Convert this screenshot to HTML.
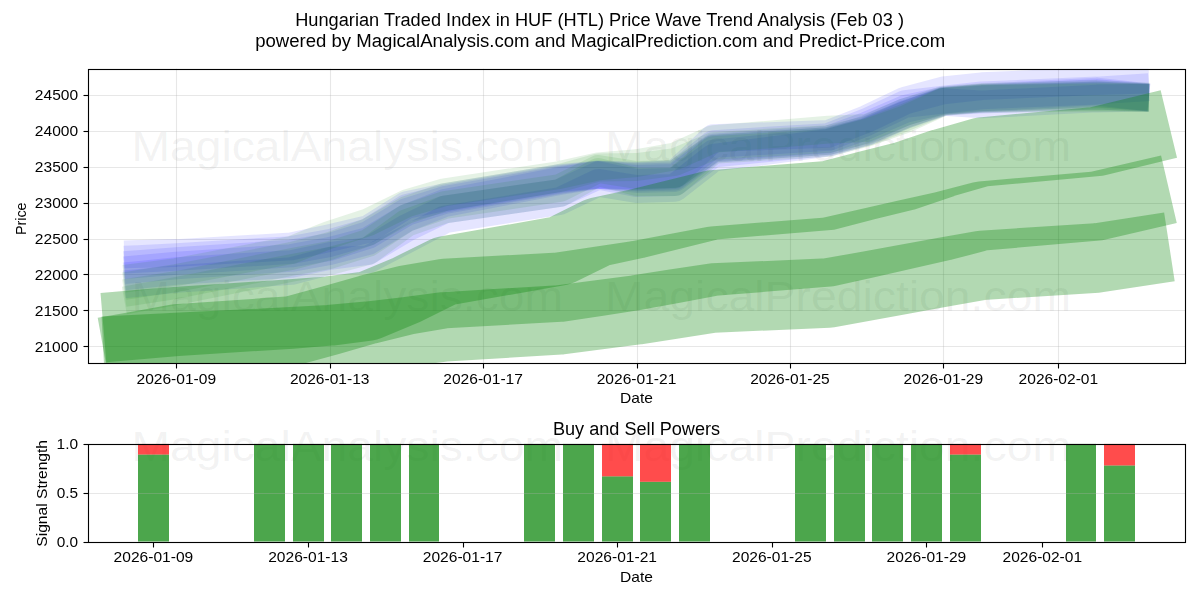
<!DOCTYPE html>
<html><head><meta charset="utf-8"><title>Price Wave Trend Analysis</title>
<style>html,body{margin:0;padding:0;background:#fff}body{width:1200px;height:600px;position:relative;overflow:hidden;font-family:"Liberation Sans",sans-serif}</style></head>
<body>
<svg width="1200" height="600" viewBox="0 0 1200 600" style="position:absolute;left:0;top:0">
<defs><clipPath id="c1"><rect x="88.15" y="68.80" width="1096.85" height="294.23"/></clipPath>
<clipPath id="c2"><rect x="88.15" y="443.64" width="1096.85" height="98.08"/></clipPath></defs>
<rect width="1200" height="600" fill="#fff"/>
<g font-family="Liberation Sans, sans-serif" fill="#808080" fill-opacity="0.1">
<text x="131.50" y="161.00" font-size="43.00" textLength="431.50" lengthAdjust="spacingAndGlyphs" fill="#808080" >MagicalAnalysis.com</text>
<text x="605.00" y="161.00" font-size="43.00" textLength="466.00" lengthAdjust="spacingAndGlyphs" fill="#808080" >MagicalPrediction.com</text>
<text x="131.50" y="311.00" font-size="43.00" textLength="431.50" lengthAdjust="spacingAndGlyphs" fill="#808080" >MagicalAnalysis.com</text>
<text x="605.00" y="311.00" font-size="43.00" textLength="466.00" lengthAdjust="spacingAndGlyphs" fill="#808080" >MagicalPrediction.com</text>
<text x="131.50" y="461.00" font-size="43.00" textLength="431.50" lengthAdjust="spacingAndGlyphs" fill="#808080" >MagicalAnalysis.com</text>
<text x="605.00" y="461.00" font-size="43.00" textLength="466.00" lengthAdjust="spacingAndGlyphs" fill="#808080" >MagicalPrediction.com</text>
</g>
<g stroke="#b0b0b0" stroke-opacity="0.3" stroke-width="1.11">
<line x1="176.50" y1="68.80" x2="176.50" y2="363.03"/>
<line x1="330.50" y1="68.80" x2="330.50" y2="363.03"/>
<line x1="483.50" y1="68.80" x2="483.50" y2="363.03"/>
<line x1="637.50" y1="68.80" x2="637.50" y2="363.03"/>
<line x1="790.50" y1="68.80" x2="790.50" y2="363.03"/>
<line x1="943.50" y1="68.80" x2="943.50" y2="363.03"/>
<line x1="1058.50" y1="68.80" x2="1058.50" y2="363.03"/>
<line x1="88.15" y1="346.50" x2="1185.00" y2="346.50"/>
<line x1="88.15" y1="310.50" x2="1185.00" y2="310.50"/>
<line x1="88.15" y1="274.50" x2="1185.00" y2="274.50"/>
<line x1="88.15" y1="239.50" x2="1185.00" y2="239.50"/>
<line x1="88.15" y1="203.50" x2="1185.00" y2="203.50"/>
<line x1="88.15" y1="167.50" x2="1185.00" y2="167.50"/>
<line x1="88.15" y1="131.50" x2="1185.00" y2="131.50"/>
<line x1="88.15" y1="95.50" x2="1185.00" y2="95.50"/>
</g>
<g clip-path="url(#c1)" fill="none" stroke-linejoin="round" stroke-linecap="square">
<path d="M138.0,254.0 L176.4,253.0 L291.4,246.4 L329.8,238.0 L368.1,229.0 L406.5,205.0 L444.8,197.2 L559.9,178.0 L598.2,174.4 L636.6,175.6 L674.9,173.9 L713.3,138.1 L828.3,133.9 L866.7,118.9 L905.0,100.6 L943.4,90.4 L981.7,86.2 L1096.8,81.0 L1135.1,80.0" stroke="#0000ff" stroke-opacity="0.1" stroke-width="27.78"/>
<path d="M138.0,259.0 L176.4,257.0 L291.4,250.0 L329.8,243.0 L368.1,232.0 L406.5,208.0 L444.8,198.5 L559.9,179.0 L598.2,174.6 L636.6,176.5 L674.9,175.0 L713.3,144.0 L828.3,137.0 L866.7,122.0 L905.0,104.0 L943.4,99.6 L981.7,95.4 L1096.8,90.5 L1135.1,88.0" stroke="#0000ff" stroke-opacity="0.1" stroke-width="27.78"/>
<path d="M138.0,264.0 L176.4,261.0 L291.4,253.5 L329.8,247.0 L368.1,235.0 L406.5,212.0 L444.8,200.0 L559.9,180.0 L598.2,174.8 L636.6,177.5 L674.9,176.5 L713.3,147.5 L828.3,139.5 L866.7,125.6 L905.0,108.9 L943.4,100.5 L981.7,97.5 L1096.8,91.5 L1135.1,95.8" stroke="#0000ff" stroke-opacity="0.1" stroke-width="27.78"/>
<path d="M138.0,269.0 L176.4,265.5 L291.4,258.0 L329.8,251.0 L368.1,241.0 L406.5,218.0 L444.8,203.0 L559.9,181.0 L598.2,175.0 L636.6,179.0 L674.9,178.0 L713.3,149.0 L828.3,141.0 L866.7,129.0 L905.0,112.0 L943.4,101.2 L981.7,98.5 L1096.8,93.0 L1135.1,96.5" stroke="#0000ff" stroke-opacity="0.1" stroke-width="27.78"/>
<path d="M138.0,275.0 L176.4,271.0 L291.4,264.0 L329.8,256.0 L368.1,251.0 L406.5,228.0 L444.8,209.4 L559.9,193.0 L598.2,175.5 L636.6,183.0 L674.9,182.0 L713.3,153.6 L828.3,142.0 L866.7,131.0 L905.0,114.0 L943.4,101.8 L981.7,99.5 L1096.8,95.5 L1135.1,97.2" stroke="#0000ff" stroke-opacity="0.1" stroke-width="27.78"/>
<path d="M138.0,283.0 L176.4,279.0 L291.4,271.0 L329.8,261.0 L368.1,259.4 L406.5,239.6 L444.8,219.4 L559.9,201.0 L598.2,182.8 L636.6,189.0 L674.9,187.8 L713.3,157.8 L828.3,142.8 L866.7,132.0 L905.0,115.0 L943.4,102.0 L981.7,104.3 L1096.8,98.5 L1135.1,97.9" stroke="#0000ff" stroke-opacity="0.1" stroke-width="27.78"/>
<path d="M138.0,277.0 L176.4,272.0 L291.4,250.0 L329.8,234.7 L368.1,222.2 L406.5,203.4 L444.8,192.2 L559.9,174.9 L598.2,166.4 L636.6,163.1 L674.9,156.4 L713.3,139.0 L828.3,129.7 L866.7,128.0 L905.0,112.0 L943.4,100.0 L981.7,97.0 L1096.8,94.0 L1135.1,96.0" stroke="#008000" stroke-opacity="0.1" stroke-width="27.78"/>
<path d="M138.0,284.0 L176.4,278.0 L291.4,256.0 L329.8,246.0 L368.1,232.0 L406.5,210.0 L444.8,197.0 L559.9,178.0 L598.2,167.5 L636.6,167.0 L674.9,162.0 L713.3,146.0 L828.3,139.0 L866.7,130.0 L905.0,115.0 L943.4,101.0 L981.7,97.8 L1096.8,95.5 L1135.1,96.8" stroke="#008000" stroke-opacity="0.1" stroke-width="27.78"/>
<path d="M138.0,291.0 L176.4,285.0 L291.4,262.0 L329.8,255.0 L368.1,243.0 L406.5,218.0 L444.8,205.0 L559.9,188.0 L598.2,169.0 L636.6,175.0 L674.9,174.0 L713.3,148.5 L828.3,141.0 L866.7,132.0 L905.0,117.5 L943.4,101.5 L981.7,98.4 L1096.8,96.5 L1135.1,97.4" stroke="#008000" stroke-opacity="0.1" stroke-width="27.78"/>
<path d="M138.0,298.0 L176.4,291.0 L291.4,268.0 L329.8,261.0 L368.1,251.0 L406.5,223.0 L444.8,209.4 L559.9,193.0 L598.2,172.0 L636.6,182.0 L674.9,182.0 L713.3,150.0 L828.3,142.8 L866.7,132.8 L905.0,119.4 L943.4,101.8 L981.7,99.0 L1096.8,97.5 L1135.1,97.9" stroke="#008000" stroke-opacity="0.1" stroke-width="27.78"/>
<path d="M138.0,324.7 L176.4,321.5 L291.4,314.0 L329.8,311.0 L368.1,306.0 L406.5,290.0 L444.8,271.0 L559.9,250.8 L598.2,232.0 L636.6,223.8 L674.9,214.3 L713.3,204.8 L828.3,195.5 L866.7,185.5 L905.0,176.0 L943.4,163.0 L981.7,152.0 L1096.8,141.5 L1135.1,132.2" stroke="#008000" stroke-opacity="0.3" stroke-width="69.44"/>
<path d="M138.0,345.9 L176.4,339.0 L291.4,331.0 L329.8,320.5 L368.1,309.5 L406.5,300.0 L444.8,293.5 L559.9,287.1 L598.2,281.3 L636.6,275.5 L674.9,268.3 L713.3,261.1 L828.3,252.0 L866.7,243.3 L905.0,234.7 L943.4,226.0 L981.7,216.0 L1096.8,206.0 L1135.1,197.1" stroke="#008000" stroke-opacity="0.3" stroke-width="69.44"/>
<path d="M138.0,349.4 L176.4,347.5 L291.4,341.8 L329.8,339.7 L368.1,336.2 L406.5,331.8 L444.8,326.8 L559.9,319.9 L598.2,314.9 L636.6,309.9 L674.9,303.9 L713.3,298.0 L828.3,293.0 L866.7,286.1 L905.0,279.1 L943.4,272.2 L981.7,265.3 L1096.8,258.0 L1135.1,252.1" stroke="#008000" stroke-opacity="0.3" stroke-width="69.44"/>
</g>
<g clip-path="url(#c2)">
<rect x="138.00" y="454.54" width="31.00" height="87.18" fill="#008000" fill-opacity="0.7"/>
<rect x="138.00" y="443.64" width="31.00" height="10.90" fill="#ff0000" fill-opacity="0.7"/>
<rect x="254.00" y="443.64" width="31.00" height="98.08" fill="#008000" fill-opacity="0.7"/>
<rect x="293.00" y="443.64" width="31.00" height="98.08" fill="#008000" fill-opacity="0.7"/>
<rect x="331.00" y="443.64" width="31.00" height="98.08" fill="#008000" fill-opacity="0.7"/>
<rect x="370.00" y="443.64" width="31.00" height="98.08" fill="#008000" fill-opacity="0.7"/>
<rect x="409.00" y="443.64" width="30.00" height="98.08" fill="#008000" fill-opacity="0.7"/>
<rect x="524.00" y="443.64" width="31.00" height="98.08" fill="#008000" fill-opacity="0.7"/>
<rect x="563.00" y="443.64" width="31.00" height="98.08" fill="#008000" fill-opacity="0.7"/>
<rect x="602.00" y="476.33" width="31.00" height="65.39" fill="#008000" fill-opacity="0.7"/>
<rect x="602.00" y="443.64" width="31.00" height="32.69" fill="#ff0000" fill-opacity="0.7"/>
<rect x="640.00" y="481.78" width="31.00" height="59.94" fill="#008000" fill-opacity="0.7"/>
<rect x="640.00" y="443.64" width="31.00" height="38.14" fill="#ff0000" fill-opacity="0.7"/>
<rect x="679.00" y="443.64" width="31.00" height="98.08" fill="#008000" fill-opacity="0.7"/>
<rect x="795.00" y="443.64" width="31.00" height="98.08" fill="#008000" fill-opacity="0.7"/>
<rect x="834.00" y="443.64" width="31.00" height="98.08" fill="#008000" fill-opacity="0.7"/>
<rect x="872.00" y="443.64" width="31.00" height="98.08" fill="#008000" fill-opacity="0.7"/>
<rect x="911.00" y="443.64" width="31.00" height="98.08" fill="#008000" fill-opacity="0.7"/>
<rect x="950.00" y="454.54" width="31.00" height="87.18" fill="#008000" fill-opacity="0.7"/>
<rect x="950.00" y="443.64" width="31.00" height="10.90" fill="#ff0000" fill-opacity="0.7"/>
<rect x="1066.00" y="443.64" width="30.00" height="98.08" fill="#008000" fill-opacity="0.7"/>
<rect x="1104.00" y="465.44" width="31.00" height="76.28" fill="#008000" fill-opacity="0.7"/>
<rect x="1104.00" y="443.64" width="31.00" height="21.80" fill="#ff0000" fill-opacity="0.7"/>
</g>
<g stroke="#b0b0b0" stroke-opacity="0.3" stroke-width="1.11">
<line x1="88.15" y1="493.50" x2="1185.00" y2="493.50"/>
</g>
<g stroke="#000" stroke-width="1.11" fill="none" stroke-linecap="square">
<rect x="88.50" y="69.50" width="1097.00" height="294.00"/>
<rect x="88.50" y="444.50" width="1097.00" height="98.00"/>
</g><g stroke="#000" stroke-width="1.11">
<line x1="176.50" y1="363.50" x2="176.50" y2="368.50"/>
<line x1="153.50" y1="542.50" x2="153.50" y2="547.50"/>
<line x1="330.50" y1="363.50" x2="330.50" y2="368.50"/>
<line x1="308.50" y1="542.50" x2="308.50" y2="547.50"/>
<line x1="483.50" y1="363.50" x2="483.50" y2="368.50"/>
<line x1="463.50" y1="542.50" x2="463.50" y2="547.50"/>
<line x1="637.50" y1="363.50" x2="637.50" y2="368.50"/>
<line x1="617.50" y1="542.50" x2="617.50" y2="547.50"/>
<line x1="790.50" y1="363.50" x2="790.50" y2="368.50"/>
<line x1="772.50" y1="542.50" x2="772.50" y2="547.50"/>
<line x1="943.50" y1="363.50" x2="943.50" y2="368.50"/>
<line x1="926.50" y1="542.50" x2="926.50" y2="547.50"/>
<line x1="1058.50" y1="363.50" x2="1058.50" y2="368.50"/>
<line x1="1042.50" y1="542.50" x2="1042.50" y2="547.50"/>
<line x1="83.50" y1="346.50" x2="88.50" y2="346.50"/>
<line x1="83.50" y1="310.50" x2="88.50" y2="310.50"/>
<line x1="83.50" y1="274.50" x2="88.50" y2="274.50"/>
<line x1="83.50" y1="239.50" x2="88.50" y2="239.50"/>
<line x1="83.50" y1="203.50" x2="88.50" y2="203.50"/>
<line x1="83.50" y1="167.50" x2="88.50" y2="167.50"/>
<line x1="83.50" y1="131.50" x2="88.50" y2="131.50"/>
<line x1="83.50" y1="95.50" x2="88.50" y2="95.50"/>
<line x1="83.50" y1="542.50" x2="88.50" y2="542.50"/>
<line x1="83.50" y1="493.50" x2="88.50" y2="493.50"/>
<line x1="83.50" y1="444.50" x2="88.50" y2="444.50"/>
</g>
<g font-family="Liberation Sans, sans-serif" opacity="0.999">
<text x="136.50" y="383.54" font-size="14.30" textLength="79.62" lengthAdjust="spacingAndGlyphs" fill="#000" >2026-01-09</text>
<text x="289.90" y="383.54" font-size="14.30" textLength="79.62" lengthAdjust="spacingAndGlyphs" fill="#000" >2026-01-13</text>
<text x="443.31" y="383.54" font-size="14.30" textLength="79.63" lengthAdjust="spacingAndGlyphs" fill="#000" >2026-01-17</text>
<text x="596.71" y="383.54" font-size="14.30" textLength="79.62" lengthAdjust="spacingAndGlyphs" fill="#000" >2026-01-21</text>
<text x="750.18" y="383.54" font-size="14.30" textLength="79.50" lengthAdjust="spacingAndGlyphs" fill="#000" >2026-01-25</text>
<text x="903.52" y="383.54" font-size="14.30" textLength="79.62" lengthAdjust="spacingAndGlyphs" fill="#000" >2026-01-29</text>
<text x="1018.64" y="383.54" font-size="14.30" textLength="79.50" lengthAdjust="spacingAndGlyphs" fill="#000" >2026-02-01</text>
<text x="34.76" y="351.92" font-size="14.30" textLength="43.38" lengthAdjust="spacingAndGlyphs" fill="#000" >21000</text>
<text x="34.76" y="315.95" font-size="14.30" textLength="43.38" lengthAdjust="spacingAndGlyphs" fill="#000" >21500</text>
<text x="34.88" y="279.99" font-size="14.30" textLength="43.25" lengthAdjust="spacingAndGlyphs" fill="#000" >22000</text>
<text x="34.88" y="244.03" font-size="14.30" textLength="43.25" lengthAdjust="spacingAndGlyphs" fill="#000" >22500</text>
<text x="34.88" y="208.07" font-size="14.30" textLength="43.25" lengthAdjust="spacingAndGlyphs" fill="#000" >23000</text>
<text x="34.88" y="172.11" font-size="14.30" textLength="43.25" lengthAdjust="spacingAndGlyphs" fill="#000" >23500</text>
<text x="34.88" y="136.15" font-size="14.30" textLength="43.25" lengthAdjust="spacingAndGlyphs" fill="#000" >24000</text>
<text x="34.88" y="100.19" font-size="14.30" textLength="43.25" lengthAdjust="spacingAndGlyphs" fill="#000" >24500</text>
<text x="620.09" y="403.09" font-size="14.30" textLength="32.88" lengthAdjust="spacingAndGlyphs" fill="#000" >Date</text>
<g transform="translate(25.80,235.10) rotate(-90)"><text x="0.00" y="0.00" font-size="14.30" textLength="32.70" lengthAdjust="spacingAndGlyphs" fill="#000" >Price</text></g>
<text x="113.61" y="562.22" font-size="14.30" textLength="79.62" lengthAdjust="spacingAndGlyphs" fill="#000" >2026-01-09</text>
<text x="268.20" y="562.22" font-size="14.30" textLength="79.62" lengthAdjust="spacingAndGlyphs" fill="#000" >2026-01-13</text>
<text x="422.80" y="562.22" font-size="14.30" textLength="79.62" lengthAdjust="spacingAndGlyphs" fill="#000" >2026-01-17</text>
<text x="577.39" y="562.22" font-size="14.30" textLength="79.62" lengthAdjust="spacingAndGlyphs" fill="#000" >2026-01-21</text>
<text x="732.05" y="562.22" font-size="14.30" textLength="79.50" lengthAdjust="spacingAndGlyphs" fill="#000" >2026-01-25</text>
<text x="886.58" y="562.22" font-size="14.30" textLength="79.62" lengthAdjust="spacingAndGlyphs" fill="#000" >2026-01-29</text>
<text x="1002.59" y="562.22" font-size="14.30" textLength="79.50" lengthAdjust="spacingAndGlyphs" fill="#000" >2026-02-01</text>
<text x="56.76" y="547.00" font-size="14.30" textLength="21.38" lengthAdjust="spacingAndGlyphs" fill="#000" >0.0</text>
<text x="56.76" y="497.96" font-size="14.30" textLength="21.38" lengthAdjust="spacingAndGlyphs" fill="#000" >0.5</text>
<text x="56.63" y="448.92" font-size="14.30" textLength="21.50" lengthAdjust="spacingAndGlyphs" fill="#000" >1.0</text>
<text x="620.09" y="581.78" font-size="14.30" textLength="32.88" lengthAdjust="spacingAndGlyphs" fill="#000" >Date</text>
<g transform="translate(46.70,546.70) rotate(-90)"><text x="0.00" y="0.00" font-size="14.30" textLength="106.70" lengthAdjust="spacingAndGlyphs" fill="#000" >Signal Strength</text></g>
<text x="552.90" y="435.17" font-size="17.60" textLength="167.25" lengthAdjust="spacingAndGlyphs" fill="#000" >Buy and Sell Powers</text>
<text x="295.20" y="26.00" font-size="17.60" textLength="608.80" lengthAdjust="spacingAndGlyphs" fill="#000" >Hungarian Traded Index in HUF (HTL) Price Wave Trend Analysis (Feb 03 )</text>
<text x="255.20" y="46.60" font-size="17.60" textLength="690.00" lengthAdjust="spacingAndGlyphs" fill="#000" >powered by MagicalAnalysis.com and MagicalPrediction.com and Predict-Price.com</text>
</g>
</svg>
</body></html>
